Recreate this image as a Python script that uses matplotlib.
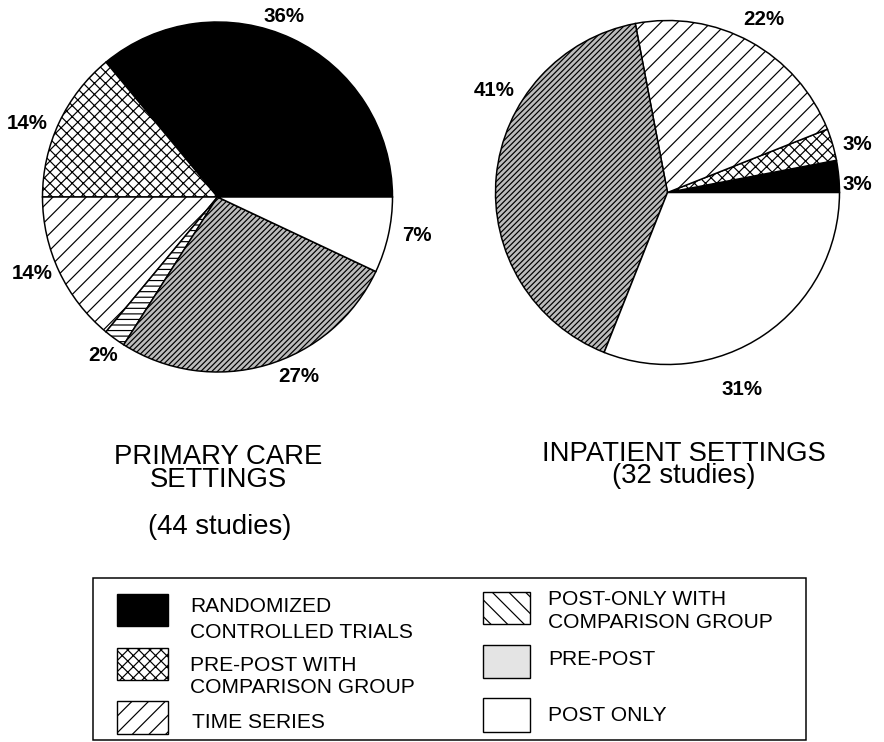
import matplotlib
matplotlib.use("Agg")
import numpy as np
import matplotlib.pyplot as plt
from matplotlib.patches import Rectangle

W, H, DPI = 884, 742, 100
PT = 72.0 / DPI  # px -> pt

plt.rcParams['font.family'] = ['Liberation Sans', 'DejaVu Sans']
plt.rcParams['hatch.linewidth'] = 1.2 * PT

# study design categories (legend order)
categories = [
    "RANDOMIZED\nCONTROLLED TRIALS",
    "PRE-POST WITH\nCOMPARISON GROUP",
    "TIME SERIES",
    "POST-ONLY WITH\nCOMPARISON GROUP",
    "PRE-POST",
    "POST ONLY",
]
primary_pct = [36, 14, 14, 2, 27, 7]
inpatient_pct = [3, 3, 22, 0, 41, 31]

primary_title = "PRIMARY CARE\nSETTINGS"
primary_n = "(44 studies)"
inpatient_title = "INPATIENT SETTINGS\n(32 studies)"

# styling per category
faces = ['black', 'white', 'white', 'white', '#bcbcbc', 'white']
pie_hatches = [None, 'xxx', '//', '---', '//////', None]
legend_faces = ['black', 'white', 'white', 'white', '#e4e4e4', 'white']
legend_hatches = [None, 'xxx', '//', '\\\\', None, None]

# label placement (angle in degrees, distance in px from centre)
primary_label_pos = [(70, 194), (158.4, 205), (201.9, 200), (233.8, 194), (294.7, 195), (349.6, 203)]
inpatient_label_pos = [(2.9, 190), (14.8, 196), (61.2, 200), None, (149, 202), (-69, 209)]

fig = plt.figure(figsize=(W / DPI, H / DPI), dpi=DPI)

# pixel-space overlay for titles and legend
bg = fig.add_axes([0, 0, 1, 1], zorder=-1)
bg.set_xlim(0, W)
bg.set_ylim(H, 0)
bg.axis('off')


def ptext(x, y, s, size_px, **kw):
    # y is the visual centre of the capitals (last line for multi-line text)
    bg.text(x, y + 0.36 * size_px, s, va='baseline', fontsize=size_px * PT, **kw)


def draw_pie(cx, cy, r, values, label_pos):
    ax = fig.add_axes([(cx - r) / W, (H - cy - r) / H, 2 * r / W, 2 * r / H])
    keep = [i for i, v in enumerate(values) if v > 0]
    wedges, _ = ax.pie([values[i] for i in keep],
                       colors=[faces[i] for i in keep],
                       startangle=0, counterclock=True,
                       wedgeprops=dict(edgecolor='black', linewidth=1.5 * PT))
    for w, i in zip(wedges, keep):
        if pie_hatches[i]:
            w.set_hatch(pie_hatches[i])
        ang, dist = label_pos[i]
        t = np.deg2rad(ang)
        ptext(cx + dist * np.cos(t), cy - dist * np.sin(t), f"{values[i]}%", 20.5,
              ha='center', fontweight='bold')
    ax.set_xlim(-1, 1)
    ax.set_ylim(-1, 1)
    ax.set_aspect('equal')
    ax.axis('off')


draw_pie(217.5, 197, 175, primary_pct, primary_label_pos)
draw_pie(667.5, 192.5, 172, inpatient_pct, inpatient_label_pos)

ptext(218, 477.5, primary_title, 27.5, ha='center', multialignment='center', linespacing=0.85)
ptext(220, 524, primary_n, 27.5, ha='center')
ptext(684, 473, inpatient_title, 27.5, ha='center', multialignment='center', linespacing=0.8)

# legend box
bg.add_patch(Rectangle((93, 578), 713, 162, facecolor='none', edgecolor='black', linewidth=1.5 * PT))

patch_boxes = [(117, 594, 51, 32), (117, 648, 51, 32), (117, 701, 51, 33),
               (483, 592, 47, 32), (483, 645, 47, 33), (483, 698, 47, 34)]
text_x = [190, 190, 192, 548, 548, 548]
text_y = [[604, 630], [663, 685], [720], [597, 620], [657], [713]]

for i, lab in enumerate(categories):
    x, y, w, h = patch_boxes[i]
    p = Rectangle((x, y), w, h, facecolor=legend_faces[i], edgecolor='black', linewidth=1.4 * PT)
    if legend_hatches[i]:
        p.set_hatch(legend_hatches[i])
    bg.add_patch(p)
    for line, ly in zip(lab.split("\n"), text_y[i]):
        ptext(text_x[i], ly, line, 21, ha='left')

fig.savefig("out.png", dpi=DPI)
